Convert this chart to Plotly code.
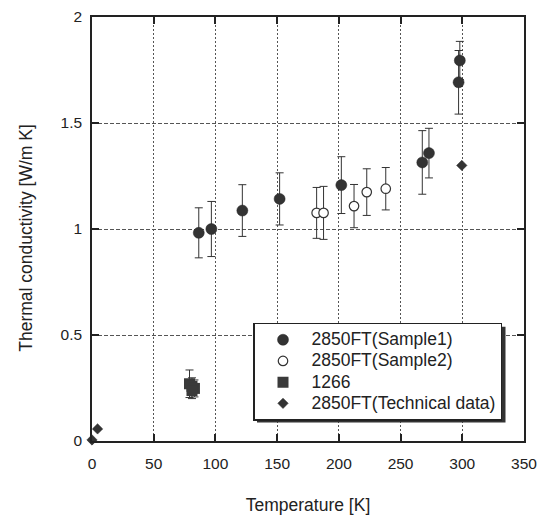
import plotly.graph_objects as go

# ---- data ----
s1_T = [86.5, 96.7, 121.8, 152, 202, 267.6, 273, 297, 298]
s1_k = [0.982, 1.0, 1.087, 1.142, 1.207, 1.314, 1.358, 1.692, 1.795]
s1_err = [0.118, 0.13, 0.122, 0.123, 0.134, 0.15, 0.117, 0.15, 0.09]

s2_T = [182, 187.6, 212.3, 222.6, 238]
s2_k = [1.076, 1.076, 1.108, 1.174, 1.19]
s2_err = [0.12, 0.125, 0.102, 0.11, 0.1]

m1266_T = [79, 81, 83, 81]
m1266_k = [0.27, 0.258, 0.248, 0.238]
m1266_err = [0.065, 0.04, 0.04, 0.038]

tech_T = [0, 4.5, 299.6]
tech_k = [0.005, 0.057, 1.30]

x_ticks = [0, 50, 100, 150, 200, 250, 300, 350]
y_ticks = [0, 0.5, 1, 1.5, 2]

series_names = ["2850FT(Sample1)", "2850FT(Sample2)", "1266", "2850FT(Technical data)"]
x_title = "Temperature [K]"
y_title = "Thermal conductivity [W/m K]"

FONT = "Arial, Liberation Sans, sans-serif"
INK = "#333333"
TXT = "#222222"

# the page body has an 8px margin: work in page pixels, convert to figure pixels
OFF = 8
PAGE_W, PAGE_H = 545, 515
W, H = PAGE_W - OFF, PAGE_H - OFF
L, R, T, B = 92 - OFF, 524 - OFF, 17 - OFF, 441.5 - OFF


def px(xp):
    return (xp - OFF - L) / (R - L)


def py(yp):
    return (B - (yp - OFF)) / (B - T)


fig = go.Figure()


def errtrace(x, y, e):
    return go.Scatter(
        x=x, y=y, mode="markers", showlegend=False, hoverinfo="skip",
        marker=dict(size=1, opacity=0),
        error_y=dict(type="data", array=e, visible=True, color=INK,
                     thickness=1, width=4),
        cliponaxis=False,
    )


fig.add_trace(errtrace(s1_T, s1_k, s1_err))
fig.add_trace(errtrace(s2_T, s2_k, s2_err))
fig.add_trace(errtrace(m1266_T, m1266_k, m1266_err))

styles = [
    dict(symbol="circle", size=11, color=INK, line=dict(width=0.5, color=TXT)),
    dict(symbol="circle", size=9.5, color="white", line=dict(width=1.2, color=INK)),
    dict(symbol="square", size=11, color="#3a3a3a", line=dict(width=0)),
    dict(symbol="diamond", size=8, color=INK, line=dict(width=0.5, color=TXT)),
]
data = [(s1_T, s1_k), (s2_T, s2_k), (m1266_T, m1266_k), (tech_T, tech_k)]

for (xs, ys), st, name in zip(data, styles, series_names):
    fig.add_trace(go.Scatter(
        x=xs, y=ys, mode="markers",
        name='<span style="font-size:17.5px">%s</span>' % name,
        marker=st, cliponaxis=False))

axis_common = dict(
    showline=True, linecolor=TXT, linewidth=1.5, mirror="ticks",
    ticks="inside", ticklen=7, tickwidth=1.5, tickcolor=TXT,
    showgrid=True, gridcolor="#555", gridwidth=1,
    zeroline=False,
    tickfont=dict(family=FONT, size=15.5, color=TXT),
)

fig.update_xaxes(
    range=[0, 350], tickvals=x_ticks, griddash="2px,2px", ticklabelstandoff=8,
    title=dict(text=x_title, font=dict(family=FONT, size=17.5, color=TXT), standoff=30),
    **axis_common)
fig.update_yaxes(
    range=[0, 2], tickvals=y_ticks, griddash="4px,2px", ticklabelstandoff=5,
    **axis_common)

# y-axis title as a rotated annotation (centre)
fig.add_annotation(
    text=y_title, textangle=-90, showarrow=False,
    xref="paper", yref="paper", x=px(26), y=py(238),
    xanchor="center", yanchor="middle",
    font=dict(family=FONT, size=17.5, color=TXT))

# legend drop shadow
fig.add_shape(type="rect", xref="paper", yref="paper",
              x0=px(257), x1=px(505.5), y0=py(423), y1=py(327),
              fillcolor="#333", line=dict(width=0), layer="above")

fig.update_layout(
    width=W, height=H,
    margin=dict(l=L, r=W - R, t=T, b=H - B, autoexpand=False),
    paper_bgcolor="white", plot_bgcolor="white",
    font=dict(family=FONT, size=15, color=TXT),
    legend=dict(
        x=px(253), y=py(323), xanchor="left", yanchor="top",
        bgcolor="white", bordercolor=TXT, borderwidth=1.5,
        font=dict(family=FONT, size=14, color=TXT),
        tracegroupgap=0, itemwidth=47,
    ),
)

fig.write_html("out.html")
